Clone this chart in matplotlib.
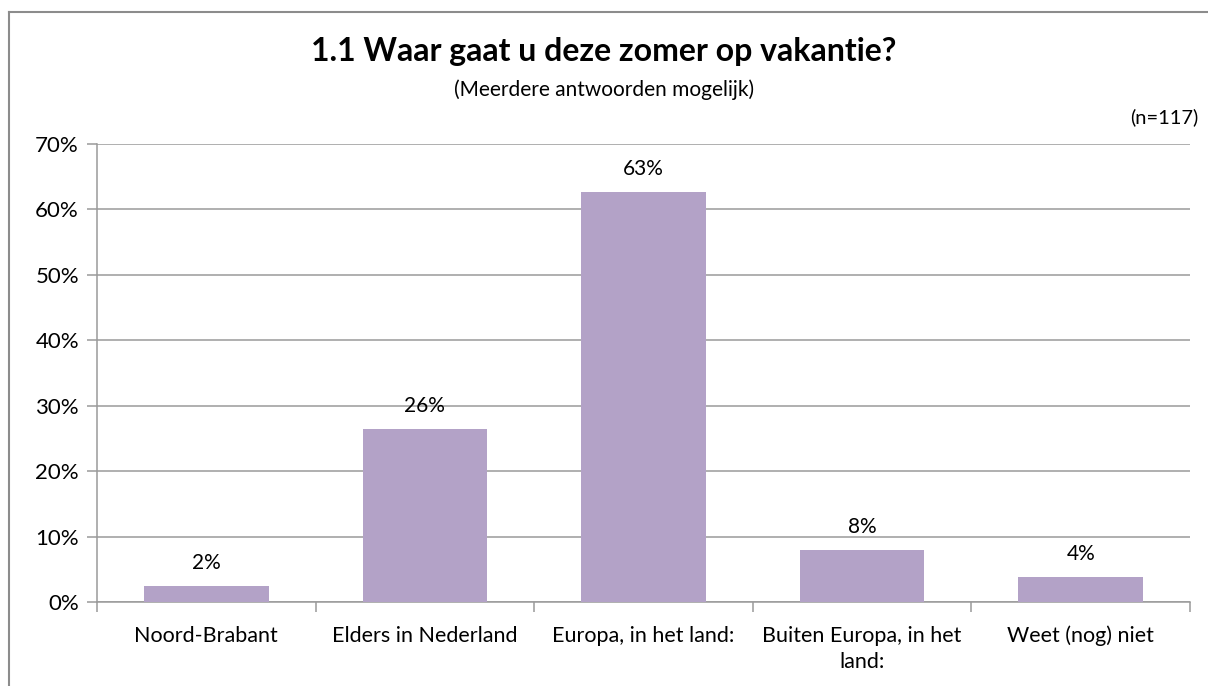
import numpy as np
import matplotlib.pyplot as plt
from matplotlib.lines import Line2D
from matplotlib.ticker import FixedLocator, PercentFormatter

plt.rcParams['font.family'] = ['Lato', 'DejaVu Sans']

# Data
categories = ['Noord-Brabant', 'Elders in Nederland', 'Europa, in het land:',
              'Buiten Europa, in het\nland:', 'Weet (nog) niet']
values = [2.4, 26.4, 62.7, 7.9, 3.8]
labels = ['2%', '26%', '63%', '8%', '4%']

bar_color = '#B3A2C7'
grid_color = '#9A9A9A'

fig = plt.figure(figsize=(12.08, 6.86), dpi=100)
ax = fig.add_axes([97/1208, 84/686, 1093/1208, 458/686])

x = np.arange(len(categories))
ax.bar(x, values, width=0.57, color=bar_color, zorder=3)

for xi, v, lab in zip(x, values, labels):
    ax.text(xi, v + 2.0, lab, ha='center', va='bottom', fontsize=15, color='black')

ax.set_xlim(-0.5, len(categories) - 0.5)
ax.set_ylim(0, 70)
ax.set_yticks(np.arange(0, 71, 10))
ax.yaxis.set_major_formatter(PercentFormatter(decimals=0))
ax.grid(axis='y', color=grid_color, linewidth=1.1, zorder=0)

# category labels at centers, tick marks at boundaries
ax.set_xticks(x)
ax.set_xticklabels(categories, fontsize=15.5, linespacing=1.4)
ax.tick_params(axis='x', which='major', length=0, pad=17)
ax.xaxis.set_minor_locator(FixedLocator(np.arange(-0.5, len(categories), 1)))
ax.tick_params(axis='x', which='minor', length=7, color=grid_color, width=1.1, direction='out')
ax.tick_params(axis='y', length=7, color=grid_color, width=1.1, labelsize=16, pad=6)

for side in ['top', 'right']:
    ax.spines[side].set_visible(False)
for side in ['left', 'bottom']:
    ax.spines[side].set_color(grid_color)
    ax.spines[side].set_linewidth(1.1)

fig.text(0.5, 1 - 52/686, '1.1 Waar gaat u deze zomer op vakantie?', ha='center', va='center',
         fontsize=23, fontweight='bold')
fig.text(0.5, 1 - 90/686, '(Meerdere antwoorden mogelijk)', ha='center', va='center', fontsize=15)
fig.text(1198/1208, 1 - 117/686, '(n=117)', ha='right', va='center', fontsize=14.5)

# outer chart border (only top and left visible in the crop)
border = dict(color='#8C8C8C', linewidth=1.5, transform=fig.transFigure)
fig.lines.append(Line2D([8.5/1208, 1], [1 - 12/686, 1 - 12/686], **border))
fig.lines.append(Line2D([8.5/1208, 8.5/1208], [0, 1 - 12/686], **border))

fig.savefig('out.png', dpi=100)
